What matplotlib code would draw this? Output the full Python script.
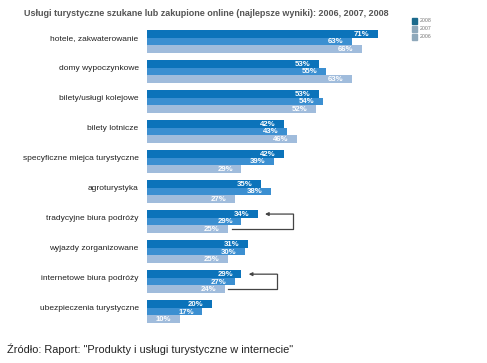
import numpy as np
import matplotlib
matplotlib.use("Agg")
import matplotlib.pyplot as plt

plt.rcParams['font.family'] = ['Liberation Sans', 'DejaVu Sans']

categories = ["hotele, zakwaterowanie", "domy wypoczynkowe", "bilety/usługi kolejowe",
              "bilety lotnicze", "specyficzne miejca turystyczne", "agroturystyka",
              "tradycyjne biura podróży", "wyjazdy zorganizowane",
              "internetowe biura podróży", "ubezpieczenia turystyczne"]
years = ["2008", "2007", "2006"]
v2008 = [71, 53, 53, 42, 42, 35, 34, 31, 29, 20]
v2007 = [63, 55, 54, 43, 39, 38, 29, 30, 27, 17]
v2006 = [66, 63, 52, 46, 29, 27, 25, 25, 24, 10]
series = [v2008, v2007, v2006]
colors = ["#0b73ba", "#3b8fd1", "#a0bcdc"]
legend_colors = ["#1b6a8c", "#8ea8ba", "#8ea8ba"]
arrow_rows = [6, 8]  # tradycyjne, internetowe

W, H = 487, 363
fig = plt.figure(figsize=(W / 100, H / 100), dpi=100)
ax = fig.add_axes([147 / W, (H - 323) / H, 325 / W, 293 / H])

pitch = 4
for j, vals in enumerate(series):
    y = np.arange(len(categories)) * pitch + j
    ax.barh(y, vals, height=1.0, color=colors[j], edgecolor="none")
    for yy, v in zip(y, vals):
        ax.annotate(f"{v}%", (v, yy), xytext=(-6, -0.3), textcoords="offset points",
                    ha="right", va="center", color="white", fontsize=5.6,
                    fontweight="bold")

for i, c in enumerate(categories):
    ax.text(-2.6, i * pitch + 0.6, c, ha="right", va="center", fontsize=6.0,
            color="#222222")

# strzalki od 2006 do 2008
for i in arrow_rows:
    v8, v6 = v2008[i], v2006[i]
    xr = v8 + 11
    y0, y2 = i * pitch, i * pitch + 2
    ax.plot([v6 + 1, xr, xr], [y2, y2, y0], color="#444444", lw=0.9)
    ax.annotate("", xy=(v8 + 2.3, y0), xytext=(xr, y0),
                arrowprops=dict(arrowstyle="-|>", color="#444444", lw=0.9,
                                mutation_scale=5, shrinkA=0, shrinkB=0))

ax.set_xlim(0, 100)
ax.set_ylim(len(categories) * pitch - 1.5, -0.5)
ax.axis("off")

fig.text(24 / W, 1 - 13 / H, "Usługi turystyczne szukane lub zakupione online (najlepsze wyniki): 2006, 2007, 2008",
         fontsize=6.45, fontweight="bold", color="#555555", va="center", ha="left")

for k, (yr, lc) in enumerate(zip(years, legend_colors)):
    yy = 21 + k * 8
    fig.patches.append(plt.Rectangle((412 / W, 1 - (yy + 2.5) / H), 5 / W, 5 / H,
                                     transform=fig.transFigure, color=lc))
    fig.text(420 / W, 1 - yy / H, yr, fontsize=3.8, color="#777777", va="center")

fig.text(7 / W, 1 - 349 / H, 'Źródło: Raport: "Produkty i usługi turystyczne w internecie"',
         fontsize=7.9, color="#222222", va="center", ha="left")

fig.savefig("out.png", dpi=100, facecolor="white")
